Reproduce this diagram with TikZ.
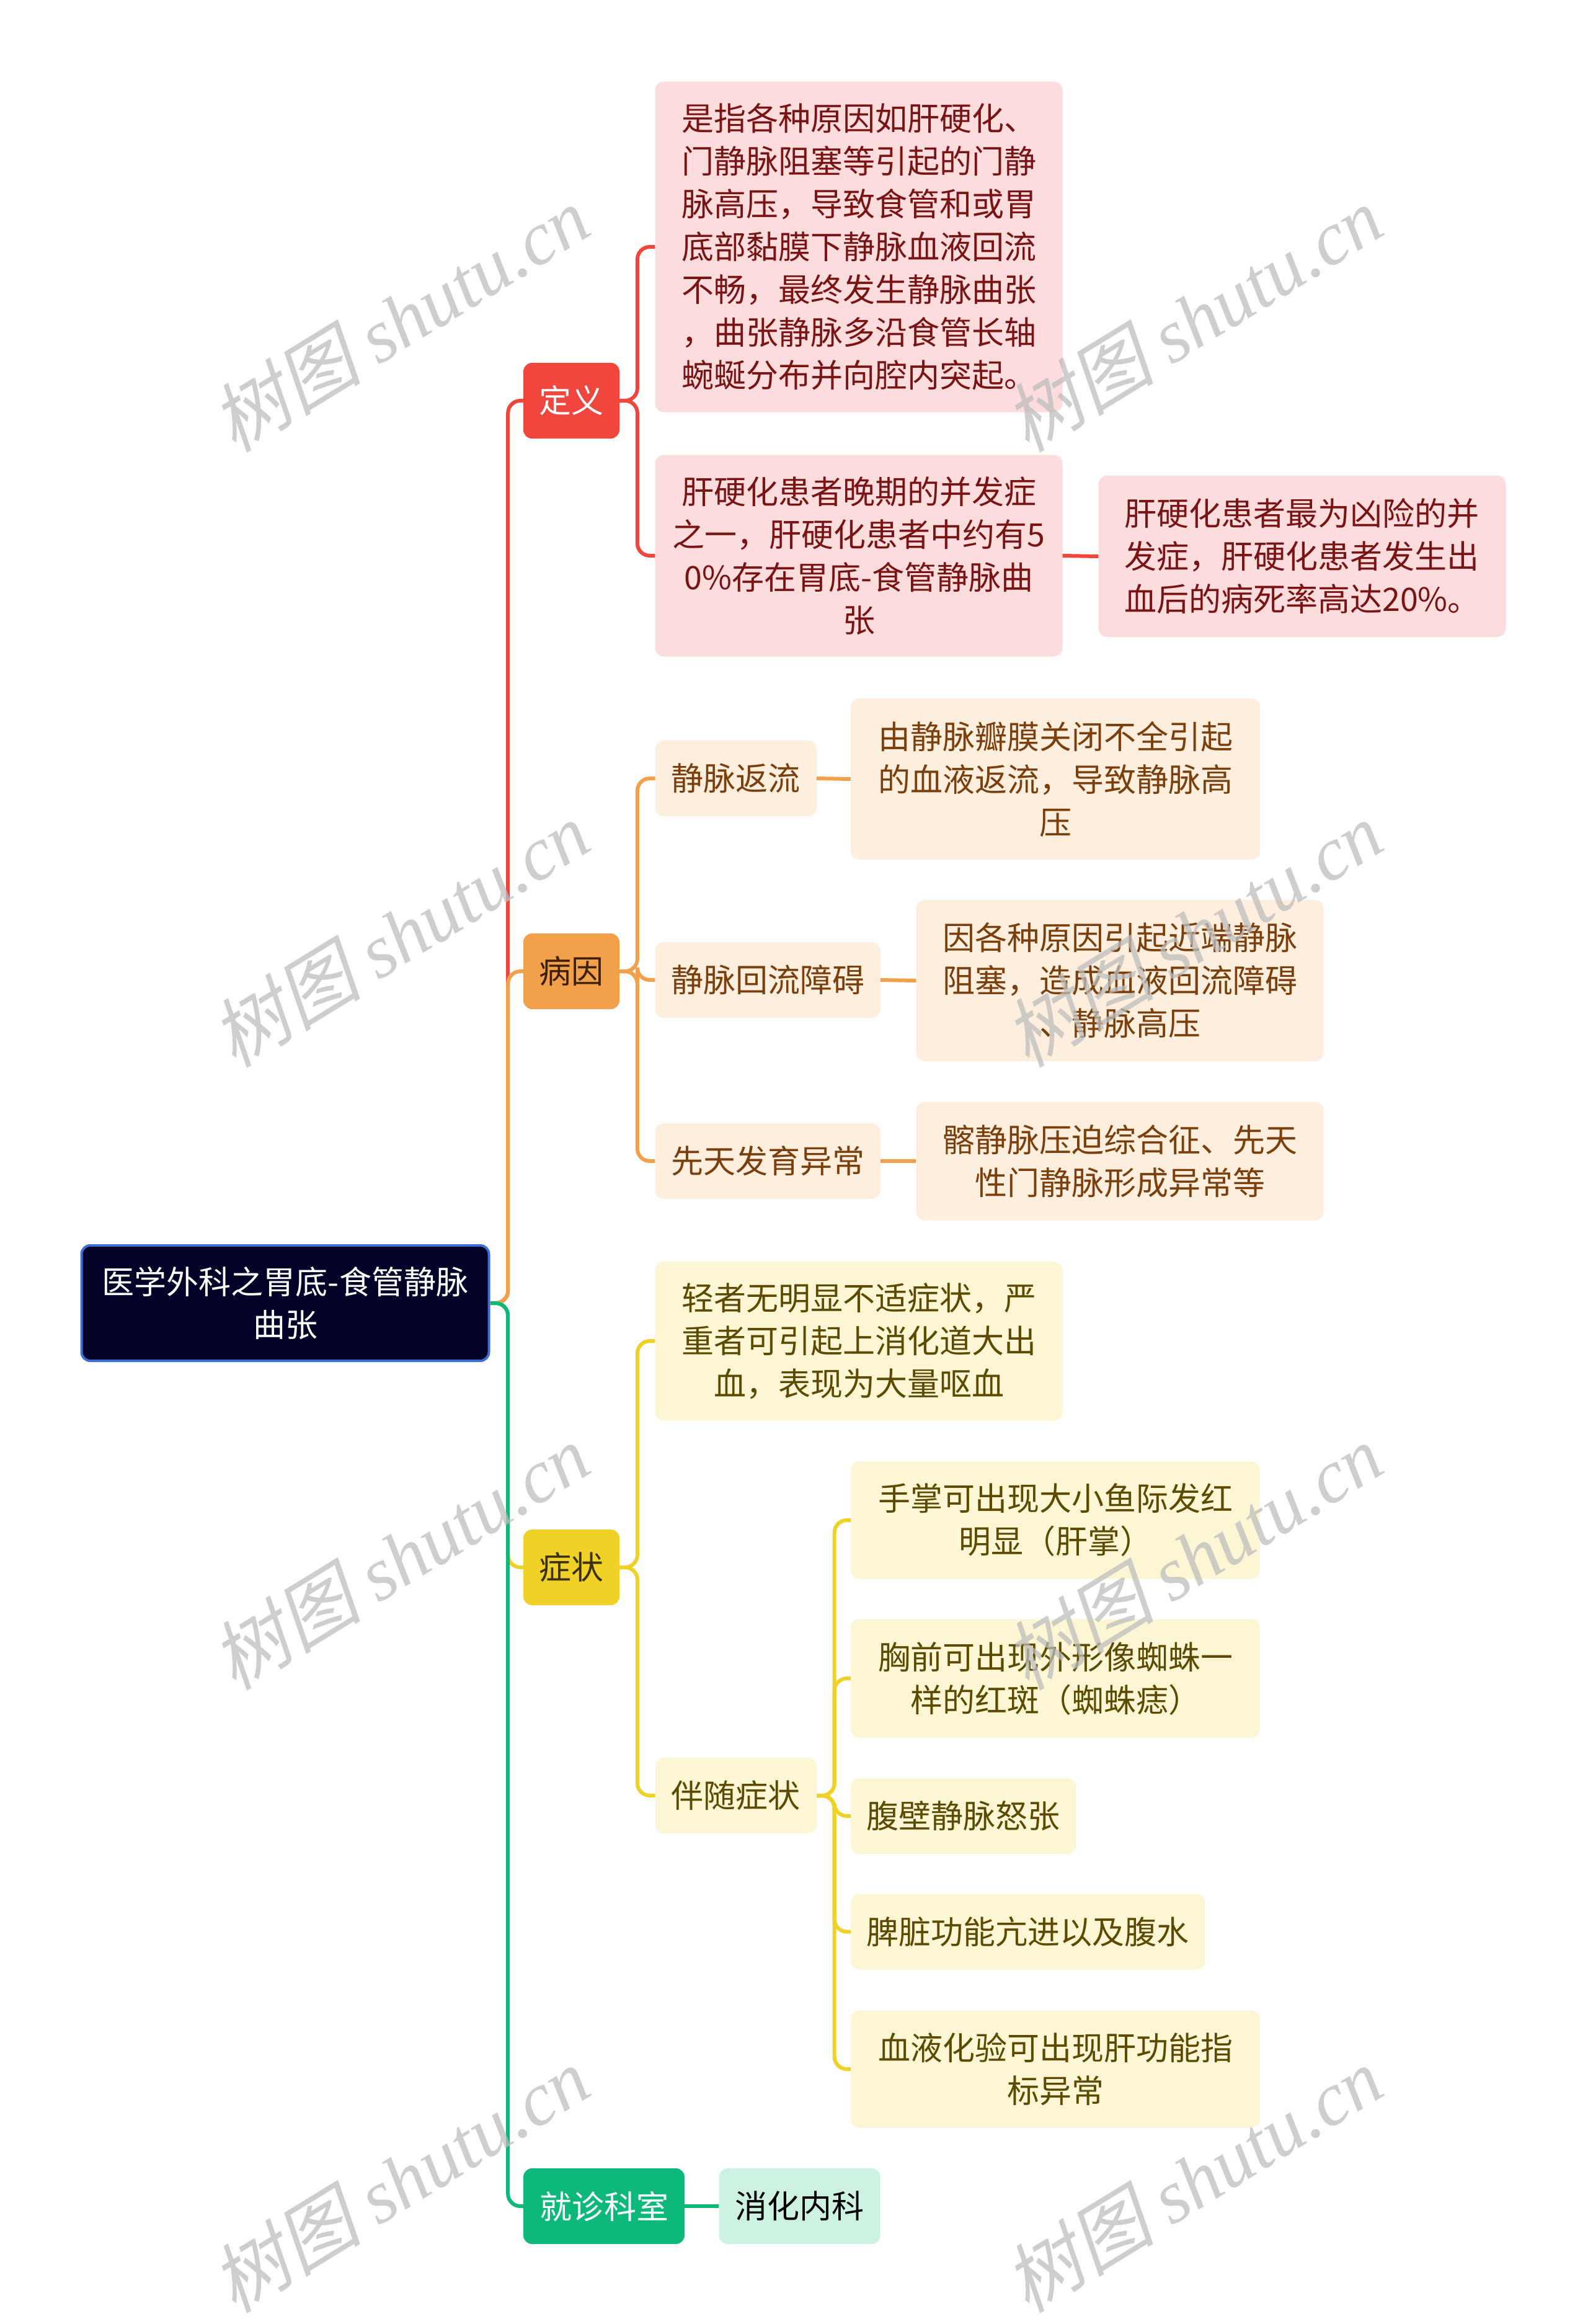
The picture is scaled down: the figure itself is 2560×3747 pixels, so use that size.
\documentclass[tikz,border=0pt]{standalone}
\usepackage{fontspec}
\setmainfont{Noto Sans CJK SC}
\newfontfamily\wmcjk[FakeSlant=0.22]{Noto Sans CJK SC}
\newfontfamily\wmserif{Liberation Serif}
\definecolor{rootfill}{HTML}{020229}
\definecolor{rootline}{HTML}{3B6FD6}
\definecolor{lred}{HTML}{F0463E}
\definecolor{lorange}{HTML}{F3A04B}
\definecolor{lyellow}{HTML}{EFD128}
\definecolor{lgreen}{HTML}{0DB97A}
\definecolor{pred}{HTML}{FCDCDC}
\definecolor{porange}{HTML}{FDEEDE}
\definecolor{pyellow}{HTML}{FCF6D4}
\definecolor{pgreen}{HTML}{CDF2E2}
\definecolor{tred}{HTML}{7A1414}
\definecolor{torange}{HTML}{7A3F0C}
\definecolor{tyellow}{HTML}{5C4A00}
\definecolor{thorange}{HTML}{3D2000}
\definecolor{thyellow}{HTML}{3D3000}
\definecolor{wmgray}{HTML}{BEBEBE}
\tikzset{
  sz/.style 2 args={minimum width=#1pt, minimum height=#2pt},
  box/.style={rounded corners=14pt, inner sep=0pt, align=center,
    font=\fontsize{52}{69}\selectfont},
  rootbox/.style={box, fill=rootfill, draw=rootline, line width=4pt, text=white},
  redhead/.style={box, fill=lred, text=white},
  orangehead/.style={box, fill=lorange, text=thorange},
  yellowhead/.style={box, fill=lyellow, text=thyellow},
  greenhead/.style={box, fill=lgreen, text=white},
  redleaf/.style={box, fill=pred, text=tred},
  orangeleaf/.style={box, fill=porange, text=torange},
  yellowleaf/.style={box, fill=pyellow, text=tyellow},
  greenleaf/.style={box, fill=pgreen, text=black},
  conn/.style={line width=6pt, rounded corners=20pt},
  wm/.style={text=wmgray, text opacity=0.75, rotate=31.5,
    font=\fontsize{122}{122}\selectfont, inner sep=0pt}
}
\begin{document}
\begin{tikzpicture}[x=1pt,y=-1pt]
\fill[white] (0,0) rectangle (2560,3747);
\useasboundingbox (0,0) rectangle (2560,3747);

% root and level 1
\node[rootbox, sz={657}{186}] (root) at (460,2101) {医学外科之胃底-食管静脉\\曲张};
\node[redhead, sz={155}{122}] (def) at (921.5,646) {定义};
\node[orangehead, sz={155}{122}] (cause) at (921.5,1566) {病因};
\node[yellowhead, sz={155}{122}] (symp) at (921.5,2527) {症状};
\node[greenhead, sz={260}{122}] (dept) at (974,3557) {就诊科室};
\node[greenleaf, sz={260}{122}] (dept1) at (1289.6,3557) {消化内科};

% red branch
\node[redleaf, sz={657}{533}, align=left] (d1) at (1385,398) {是指各种原因如肝硬化、\\门静脉阻塞等引起的门静\\脉高压，导致食管和或胃\\底部黏膜下静脉血液回流\\不畅，最终发生静脉曲张\\，曲张静脉多沿食管长轴\\蜿蜒分布并向腔内突起。};
\node[redleaf, sz={657}{325}] (d2) at (1385,896) {肝硬化患者晚期的并发症\\之一，肝硬化患者中约有5\\0\%存在胃底-食管静脉曲\\张};
\node[redleaf, sz={657}{260}, align=left] (d3) at (2100,897) {肝硬化患者最为凶险的并\\发症，肝硬化患者发生出\\血后的病死率高达20\%。};

% orange branch
\node[orangeleaf, sz={260}{122}] (c1) at (1186.8,1255) {静脉返流};
\node[orangeleaf, sz={660}{260}] (c1a) at (1702,1256) {由静脉瓣膜关闭不全引起\\的血液返流，导致静脉高\\压};
\node[orangeleaf, sz={363}{122}] (c2) at (1238,1580) {静脉回流障碍};
\node[orangeleaf, sz={657}{260}] (c2a) at (1806,1581) {因各种原因引起近端静脉\\阻塞，造成血液回流障碍\\、静脉高压};
\node[orangeleaf, sz={363}{122}] (c3) at (1238,1872) {先天发育异常};
\node[orangeleaf, sz={657}{191}] (c3a) at (1806,1872) {髂静脉压迫综合征、先天\\性门静脉形成异常等};

% yellow branch
\node[yellowleaf, sz={657}{256}] (s1) at (1385,2162) {轻者无明显不适症状，严\\重者可引起上消化道大出\\血，表现为大量呕血};
\node[yellowleaf, sz={260}{122}] (s2) at (1186.8,2895) {伴随症状};
\node[yellowleaf, sz={660}{189}] (s2a) at (1702,2451) {手掌可出现大小鱼际发红\\明显（肝掌）};
\node[yellowleaf, sz={660}{191}] (s2b) at (1702,2706) {胸前可出现外形像蜘蛛一\\样的红斑（蜘蛛痣）};
\node[yellowleaf, sz={363}{122}] (s2c) at (1553.7,2928) {腹壁静脉怒张};
\node[yellowleaf, sz={571}{122}] (s2d) at (1657.7,3114.5) {脾脏功能亢进以及腹水};
\node[yellowleaf, sz={660}{189}] (s2e) at (1702,3336) {血液化验可出现肝功能指\\标异常};

% connectors
\draw[conn, lred] (root.east) -- ++(28.7,0) |- (def.west);
\draw[conn, lorange] (root.east) -- ++(28.7,0) |- (cause.west);
\draw[conn, lyellow] (root.east) -- ++(28.7,0) |- (symp.west);
\draw[conn, lgreen] (root.east) -- ++(28.7,0) |- (dept.west);
\draw[conn, lgreen] (dept.east) -- (dept1.west);

\draw[conn, lred] (def.east) -- ++(28.7,0) |- (d1.west);
\draw[conn, lred] (def.east) -- ++(28.7,0) |- (d2.west);
\draw[conn, lred] (d2.east) -- (d3.west);

\draw[conn, lorange] (cause.east) -- ++(28.7,0) |- (c1.west);
\draw[conn, lorange] (cause.east) -- ++(28.7,0) |- (c2.west);
\draw[conn, lorange] (cause.east) -- ++(28.7,0) |- (c3.west);
\draw[conn, lorange] (c1.east) -- (c1a.west);
\draw[conn, lorange] (c2.east) -- (c2a.west);
\draw[conn, lorange] (c3.east) -- (c3a.west);

\draw[conn, lyellow] (symp.east) -- ++(28.7,0) |- (s1.west);
\draw[conn, lyellow] (symp.east) -- ++(28.7,0) |- (s2.west);
\draw[conn, lyellow] (s2.east) -- ++(28.7,0) |- (s2a.west);
\draw[conn, lyellow] (s2.east) -- ++(28.7,0) |- (s2b.west);
\draw[conn, lyellow] (s2.east) -- ++(28.7,0) |- (s2c.west);
\draw[conn, lyellow] (s2.east) -- ++(28.7,0) |- (s2d.west);
\draw[conn, lyellow] (s2.east) -- ++(28.7,0) |- (s2e.west);

% watermarks
\foreach \i/\x/\y in {1/645/514, 2/1924/514, 3/645/1506, 4/1924/1506, 5/645/2510, 6/1924/2510, 7/645/3514, 8/1924/3514}{
  \node[wm] (wm\i) at (\x,\y) {\wmcjk 树图\ \wmserif\itshape shutu.cn};
}
\end{tikzpicture}
\end{document}
